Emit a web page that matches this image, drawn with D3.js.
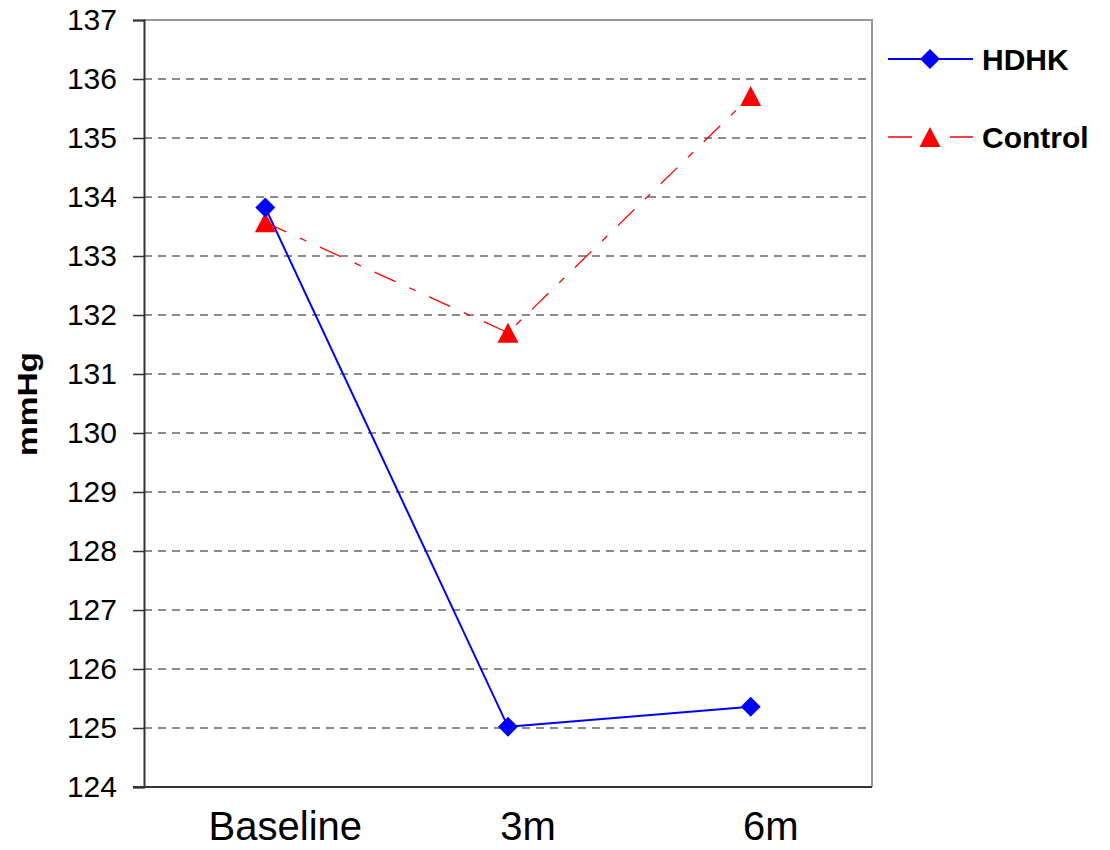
<!DOCTYPE html>
<html>
<head>
<meta charset="utf-8">
<script src="https://cdn.jsdelivr.net/npm/d3@7"></script>
<style>
  body { margin: 0; background: #fff; }
  text { font-family: "Liberation Sans", Arial, sans-serif; fill: #000; }
</style>
</head>
<body>
<div id="chart"></div>
<script>
// blood pressure by visit
var categories = ["Baseline", "3m", "6m"];
var hdhk = [133.82, 125.02, 125.36];
var control = [133.57, 131.70, 135.71];
var yTicks = [124, 125, 126, 127, 128, 129, 130, 131, 132, 133, 134, 135, 136, 137];

var svgWidth = 1110, svgHeight = 850;
var plot = {left: 144, right: 872, top: 20, bottom: 787};

var svg = d3.select("#chart").append("svg")
    .attr("width", svgWidth)
    .attr("height", svgHeight);

var x = d3.scaleBand().domain(categories).range([plot.left, plot.right]);
var y = d3.scaleLinear().domain([124, 137]).range([plot.bottom, plot.top]);
var xc = function(c) { return x(c) + x.bandwidth() / 2; };

// excel style markers
var diamond = {draw: function(ctx, size) {
  var r = Math.sqrt(size) / 2;
  ctx.moveTo(0, -r); ctx.lineTo(r, 0); ctx.lineTo(0, r); ctx.lineTo(-r, 0); ctx.closePath();
}};
var triangle = {draw: function(ctx, size) {
  var r = Math.sqrt(size) / 2;
  ctx.moveTo(0, -r); ctx.lineTo(r * 1.05, r); ctx.lineTo(-r * 1.05, r); ctx.closePath();
}};

// gridlines
svg.append("g")
  .selectAll("line")
  .data(yTicks.filter(function(d) { return d > 124 && d < 137; }))
  .enter().append("line")
    .attr("x1", plot.left).attr("x2", plot.right)
    .attr("y1", function(d) { return y(d); })
    .attr("y2", function(d) { return y(d); })
    .attr("stroke", "#1a1a1a")
    .attr("stroke-width", 1.1)
    .attr("stroke-dasharray", "8,6");

// plot border top/right
svg.append("path")
    .attr("d", "M" + plot.left + "," + plot.top + "H" + plot.right + "V" + plot.bottom)
    .attr("fill", "none")
    .attr("stroke", "#999")
    .attr("stroke-width", 2);

// y axis
var leftAxis = d3.axisLeft(y).tickValues(yTicks).tickSize(11).tickPadding(16).tickFormat(d3.format("d"));
var gy = svg.append("g")
    .attr("transform", "translate(" + plot.left + ",0)")
    .call(leftAxis);
gy.select(".domain").attr("stroke", "#333").attr("stroke-width", 2);
gy.selectAll(".tick line").attr("stroke", "#333").attr("stroke-width", 1.5);
gy.selectAll(".tick text")
    .style("font-family", "Liberation Sans, Arial, sans-serif")
    .style("font-size", "30px")
    .attr("fill", "#000");

// x axis
var bottomAxis = d3.axisBottom(x).tickSize(0).tickPadding(0);
var gx = svg.append("g")
    .attr("transform", "translate(0," + plot.bottom + ")")
    .call(bottomAxis);
gx.select(".domain").attr("stroke", "#333").attr("stroke-width", 2)
    .attr("d", "M" + (plot.left - 11) + ",0H" + plot.right);
gx.selectAll(".tick text")
    .style("font-family", "Liberation Sans, Arial, sans-serif")
    .style("font-size", "40px")
    .attr("fill", "#000")
    .attr("dy", null)
    .attr("y", 53)
    .attr("dx", 20);

// y title
svg.append("text")
    .attr("transform", "translate(37,404) rotate(-90)")
    .attr("text-anchor", "middle")
    .attr("textLength", 104)
    .attr("lengthAdjust", "spacingAndGlyphs")
    .style("font-size", "27px")
    .style("font-weight", "bold")
    .text("mmHg");

// series
var series = [
  {name: "HDHK", values: hdhk, color: "#0000ff", dash: null, width: 2, symbol: diamond, size: 400},
  {name: "Control", values: control, color: "#ff0000", dash: "23,15,7,15", width: 1.3, symbol: triangle, size: 400}
];

var line = d3.line()
    .x(function(d) { return xc(d.c); })
    .y(function(d) { return y(d.v); });

series.forEach(function(s) {
  var pts = categories.map(function(c, i) { return {c: c, v: s.values[i]}; });
  svg.append("path")
      .datum(pts)
      .attr("d", line)
      .attr("fill", "none")
      .attr("stroke", s.color)
      .attr("stroke-width", s.width)
      .attr("stroke-dasharray", s.dash);
});
series.slice().reverse().forEach(function(s) {
  var pts = categories.map(function(c, i) { return {c: c, v: s.values[i]}; });
  svg.append("g").selectAll("path")
      .data(pts)
      .enter().append("path")
      .attr("transform", function(d) { return "translate(" + xc(d.c) + "," + y(d.v) + ")"; })
      .attr("d", d3.symbol().type(s.symbol).size(s.size))
      .attr("fill", s.color);
});

// legend
var legend = svg.append("g").attr("transform", "translate(888,59)");
var items = legend.selectAll("g")
    .data(series)
    .enter().append("g")
    .attr("transform", function(d, i) { return "translate(0," + (i * 78) + ")"; });
items.append("line")
    .attr("x1", 0).attr("x2", 85)
    .attr("stroke", function(d) { return d.color; })
    .attr("stroke-width", function(d) { return d.name == "HDHK" ? 2 : 1.3; })
    .attr("stroke-dasharray", function(d) { return d.name == "HDHK" ? null : "24,38,24"; });
items.append("path")
    .attr("transform", "translate(42,0)")
    .attr("d", function(d) { return d3.symbol().type(d.symbol).size(d.size)(); })
    .attr("fill", function(d) { return d.color; });
items.append("text")
    .attr("x", 94)
    .attr("dy", "0.36em")
    .style("font-size", "30px")
    .style("font-weight", "bold")
    .text(function(d) { return d.name; });
</script>
</body>
</html>
